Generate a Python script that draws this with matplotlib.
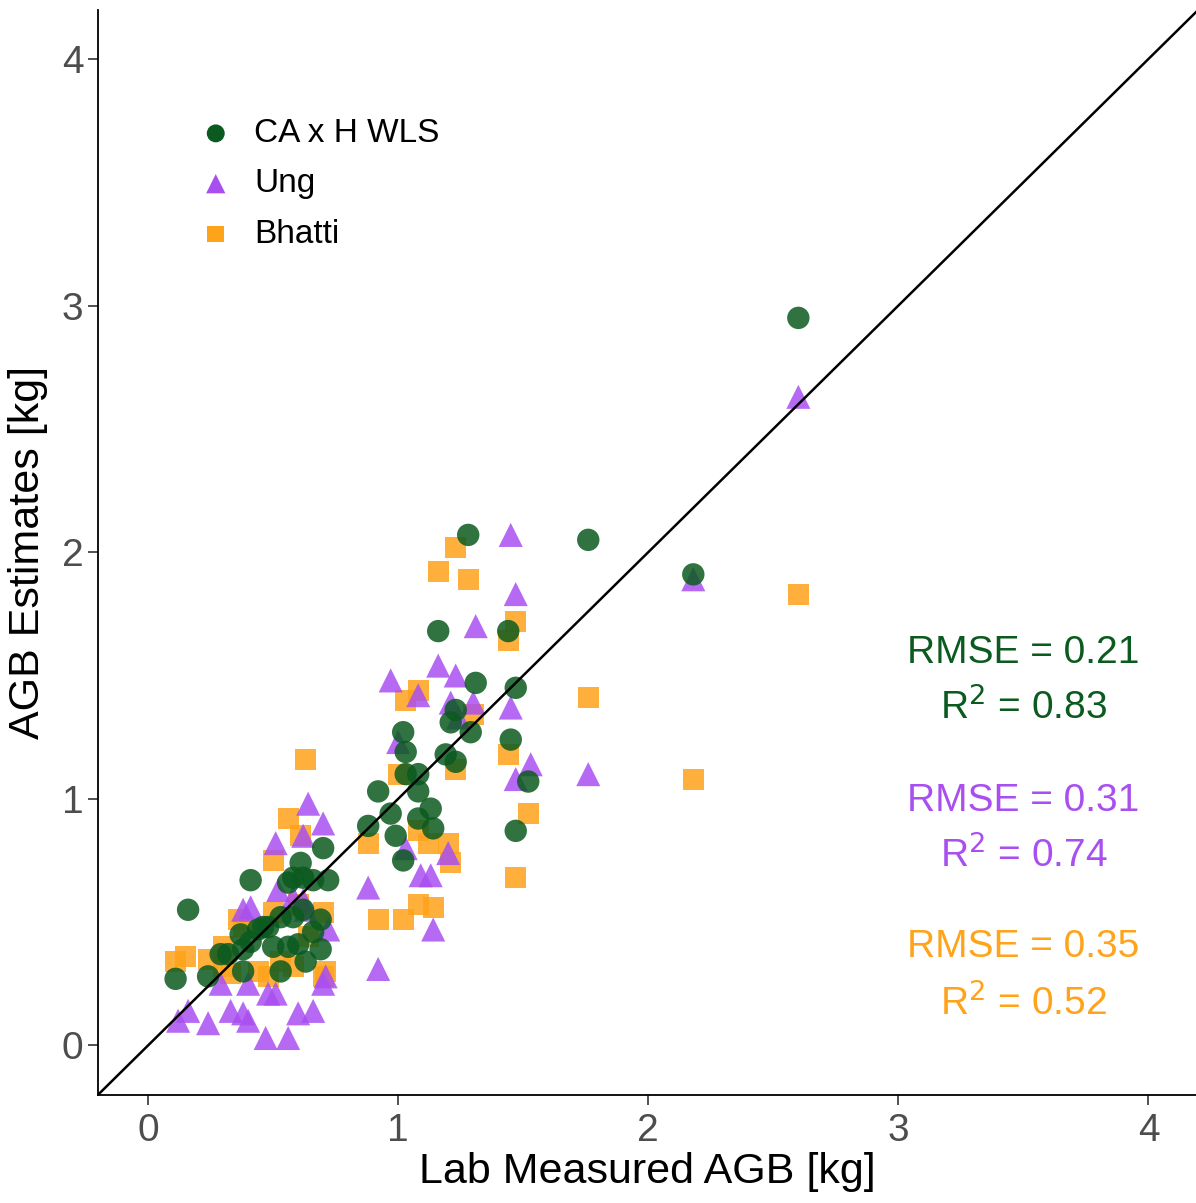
import matplotlib.pyplot as plt

plt.rcParams['font.family'] = ['Liberation Sans', 'DejaVu Sans']

# CA x H WLS estimates (lab measured x, estimate y)
cah_x = [2.60, 2.18, 1.76, 1.28, 1.16, 1.31, 1.44, 1.47, 1.45, 1.52, 1.47, 1.29,
         1.23, 1.21, 1.19, 1.23, 1.02, 1.03, 1.03, 1.08, 1.08, 1.13, 1.14, 1.08,
         0.92, 0.88, 0.97, 0.99, 1.02, 0.41, 0.16, 0.11, 0.24, 0.70, 0.61, 0.58,
         0.62, 0.66, 0.72, 0.69, 0.66, 0.60, 0.56, 0.63, 0.69, 0.53, 0.50, 0.46,
         0.53, 0.58, 0.37, 0.38, 0.32, 0.29, 0.38, 0.41, 0.44, 0.48, 0.56, 0.62]
cah_y = [2.95, 1.91, 2.05, 2.07, 1.68, 1.47, 1.68, 1.45, 1.24, 1.07, 0.87, 1.27,
         1.36, 1.31, 1.18, 1.15, 1.27, 1.19, 1.10, 1.10, 1.03, 0.96, 0.88, 0.92,
         1.03, 0.89, 0.94, 0.85, 0.75, 0.67, 0.55, 0.27, 0.28, 0.80, 0.74, 0.68,
         0.68, 0.67, 0.67, 0.51, 0.46, 0.41, 0.40, 0.34, 0.39, 0.30, 0.40, 0.48,
         0.52, 0.52, 0.45, 0.39, 0.37, 0.37, 0.30, 0.42, 0.47, 0.48, 0.66, 0.55]

# Ung estimates
ung_x = [2.60, 2.18, 1.45, 1.47, 1.31, 1.45, 1.47, 1.53, 1.76, 1.16, 1.23, 1.21,
         1.24, 0.97, 1.00, 1.08, 1.30, 1.03, 1.20, 1.09, 1.13, 0.88, 1.14, 0.92,
         0.64, 0.70, 0.51, 0.41, 0.38, 0.52, 0.62, 0.72, 0.29, 0.40, 0.51, 0.70,
         0.33, 0.38, 0.40, 0.24, 0.12, 0.16, 0.47, 0.56, 0.60, 0.66, 0.71, 0.48,
         0.62, 0.58, 0.63]
ung_y = [2.63, 1.89, 2.07, 1.83, 1.70, 1.37, 1.08, 1.14, 1.10, 1.54, 1.50, 1.39,
         1.33, 1.48, 1.23, 1.42, 1.39, 0.80, 0.78, 0.69, 0.69, 0.64, 0.47, 0.31,
         0.98, 0.90, 0.82, 0.56, 0.55, 0.63, 0.59, 0.47, 0.25, 0.25, 0.21, 0.25,
         0.14, 0.13, 0.10, 0.09, 0.10, 0.14, 0.03, 0.03, 0.13, 0.14, 0.28, 0.21,
         0.85, 0.60, 0.55]

# Bhatti estimates
bha_x = [2.60, 2.18, 1.76, 1.47, 1.44, 1.44, 1.52, 1.47, 1.16, 1.23, 1.28, 1.30,
         1.08, 1.03, 1.23, 1.00, 0.88, 1.08, 1.12, 1.20, 1.21, 0.92, 1.02, 1.08,
         1.14, 0.56, 0.61, 0.50, 0.63, 0.11, 0.15, 0.24, 0.30, 0.36, 0.70, 0.71,
         0.70, 0.44, 0.48, 0.33, 0.30, 0.53, 0.58, 0.64, 0.60, 0.50, 0.38]
bha_y = [1.83, 1.08, 1.41, 1.72, 1.64, 1.18, 0.94, 0.68, 1.92, 2.02, 1.89, 1.34,
         1.44, 1.40, 1.12, 1.10, 0.82, 0.87, 0.82, 0.82, 0.74, 0.51, 0.51, 0.57,
         0.56, 0.92, 0.85, 0.75, 1.16, 0.34, 0.36, 0.35, 0.40, 0.51, 0.54, 0.30,
         0.28, 0.30, 0.28, 0.29, 0.32, 0.34, 0.32, 0.44, 0.57, 0.54, 0.48]

rmse_vals = ['0.21', '0.31', '0.35']
r2_vals = ['0.83', '0.74', '0.52']

c_green = '#0b5a1f'
c_purple = '#a94ff0'
c_orange = '#ffa31a'

fig = plt.figure(figsize=(11.96, 12.03), dpi=100)
ax = fig.add_axes([0.082, 0.09, 0.918, 0.902])

ax.scatter(bha_x, bha_y, marker='s', s=230, color=c_orange, alpha=0.85,
           edgecolors='none', label='Bhatti', zorder=2)
ax.scatter(ung_x, ung_y, marker='^', s=300, color=c_purple, alpha=0.85,
           edgecolors='none', label='Ung', zorder=3)
ax.scatter(cah_x, cah_y, marker='o', s=260, color=c_green, alpha=0.85,
           edgecolors='none', label='CA x H WLS', zorder=4)

ax.plot([-0.2, 4.2], [-0.2, 4.2], color='black', lw=1.8, zorder=5)

ax.set_xlim(-0.2, 4.19)
ax.set_ylim(-0.2, 4.2)
ax.set_xticks([0, 1, 2, 3, 4])
ax.set_yticks([0, 1, 2, 3, 4])
for s in ['top', 'right']:
    ax.spines[s].set_visible(False)
for s in ['left', 'bottom']:
    ax.spines[s].set_linewidth(1.3)
ax.tick_params(axis='both', labelsize=28, labelcolor='#4d4d4d', color='#333333',
               length=7, width=1.2)
ax.tick_params(axis='x', pad=6)
ax.set_xlabel('Lab Measured AGB [kg]', fontsize=31, labelpad=2)
ax.set_ylabel('AGB Estimates [kg]', fontsize=31, labelpad=10)

handles, labels = ax.get_legend_handles_labels()
leg = ax.legend(handles[::-1], labels[::-1], loc='upper left',
                bbox_to_anchor=(0.092, 0.90), frameon=False, fontsize=24,
                borderaxespad=0, borderpad=0, handlelength=1.0,
                handletextpad=0.65, labelspacing=0.58, markerscale=0.8)
for h in leg.legend_handles:
    h.set_alpha(1)

colors = [c_green, c_purple, c_orange]
ys = [(1.59, 1.37), (0.99, 0.77), (0.40, 0.17)]
for rm, r2, col, (y1, y2) in zip(rmse_vals, r2_vals, colors, ys):
    ax.text(3.50, y1, 'RMSE = ' + rm, color=col, fontsize=28, ha='center', va='center')
    ax.text(3.50, y2, r'R$^2$ = ' + r2, color=col, fontsize=28, ha='center', va='center')

fig.savefig('out.png', dpi=100)
